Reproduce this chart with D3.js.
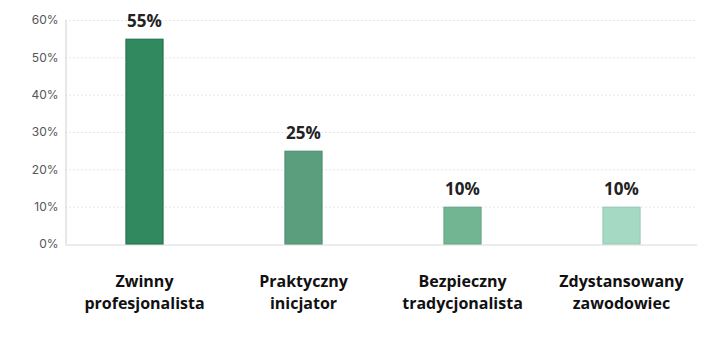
<!DOCTYPE html>
<html>
<head>
<meta charset="utf-8">
<script src="https://cdn.jsdelivr.net/npm/d3@7/dist/d3.min.js"></script>
<style>
  html, body { margin: 0; padding: 0; background: #fff; }
  svg { display: block; }
</style>
</head>
<body>
<svg id="chart" width="713" height="349"></svg>
<script>
// Share of each profile (percent)
const categories = [
  ["Zwinny", "profesjonalista"],
  ["Praktyczny", "inicjator"],
  ["Bezpieczny", "tradycjonalista"],
  ["Zdystansowany", "zawodowiec"]
];
const values = [55, 25, 10, 10];
const yTicks = [0, 10, 20, 30, 40, 50, 60];
const fills = ["#318a5f", "#5a9e7e", "#72b592", "#a6d9c3"];
const strokes = ["#1f6b45", "#4a8a6c", "#62a582", "#92c9b2"];

const svg = d3.select("#chart");
const plotLeft = 65, plotRight = 701, plotTop = 20, plotBottom = 244;

const x = d3.scaleBand()
  .domain(d3.range(categories.length))
  .range([plotLeft, plotRight])
  .paddingInner(0.76)
  .paddingOuter(0.38);

const y = d3.scaleLinear().domain([0, 60]).range([plotBottom, plotTop]);

// Grid lines
svg.append("g")
  .selectAll("line")
  .data(yTicks.filter(d => d > 0))
  .join("line")
  .attr("x1", plotLeft).attr("x2", 697)
  .attr("y1", d => y(d) + 0.5).attr("y2", d => y(d) + 0.5)
  .attr("stroke", "#e6e6e6")
  .attr("stroke-dasharray", "2,2");

// Y axis
const yAxis = d3.axisLeft(y).tickValues(yTicks).tickFormat(d => d + "%").tickSize(0).tickPadding(7);
const ga = svg.append("g").attr("transform", `translate(${plotLeft + 0.5},0)`).call(yAxis);
ga.select(".domain").attr("stroke", "#d0d0d0");
ga.selectAll("text")
  .attr("fill", "#555")
  .style("font-family", "Inter, 'DejaVu Sans', sans-serif")
  .style("font-size", "12px");

// Baseline
svg.append("line")
  .attr("x1", plotLeft).attr("x2", 697)
  .attr("y1", plotBottom + 1).attr("y2", plotBottom + 1)
  .attr("stroke", "#ececec").attr("stroke-width", 2);

// Bars
svg.append("g")
  .selectAll("rect")
  .data(values)
  .join("rect")
  .attr("x", (d, i) => x(i) + 0.5)
  .attr("y", d => y(d) + 0.5)
  .attr("width", x.bandwidth() - 1)
  .attr("height", d => y(0) - y(d) - 0.5)
  .attr("fill", (d, i) => fills[i])
  .attr("stroke", (d, i) => strokes[i])
  .attr("stroke-width", 1);

// Value labels
svg.append("g")
  .selectAll("text")
  .data(values)
  .join("text")
  .attr("x", (d, i) => x(i) + x.bandwidth() / 2)
  .attr("y", d => y(d) - 12)
  .attr("text-anchor", "middle")
  .attr("fill", "#222")
  .style("font-family", "'Open Sans', sans-serif")
  .style("font-weight", "700")
  .style("font-size", "17px")
  .text(d => d + "%");

// Category labels
const cat = svg.append("g")
  .selectAll("text")
  .data(categories)
  .join("text")
  .attr("x", (d, i) => x(i) + x.bandwidth() / 2)
  .attr("y", 287)
  .attr("text-anchor", "middle")
  .attr("fill", "#111")
  .style("font-family", "'Open Sans', sans-serif")
  .style("font-weight", "700")
  .style("font-size", "16px");
cat.selectAll("tspan")
  .data(d => d)
  .join("tspan")
  .attr("x", function () { return d3.select(this.parentNode).attr("x"); })
  .attr("dy", (d, j) => j === 0 ? 0 : 22)
  .text(d => d);
</script>
</body>
</html>
